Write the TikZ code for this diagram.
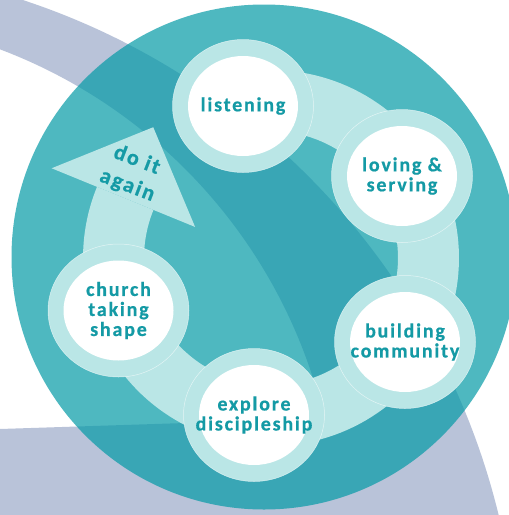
\documentclass[tikz,border=0pt]{standalone}
\usepackage{fontspec}
\newfontfamily\lblfamily{Carlito}[LetterSpace=9, BoldFeatures={FakeBold=0.6}]
\definecolor{greyc}{HTML}{B9C3D9}
\definecolor{tealc}{HTML}{049AA6}
\definecolor{ringc}{HTML}{BAE6E6}
\definecolor{textc}{HTML}{149AA5}
\newcommand\stagenode[3]{%
  \fill[ringc] (#2) ellipse [x radius=70.5pt, y radius=66.5pt];
  \draw[white, line width=0.5pt, draw opacity=0.6] (#2) ellipse [x radius=70.5pt, y radius=66.5pt];
  \fill[white] (#2) ellipse [x radius=55pt, y radius=50pt];
  \node[lbl] (#1) at (#2) {#3};}
\begin{document}
\begin{tikzpicture}[x=1pt, y=-1pt,
  lbl/.style={font={\lblfamily\bfseries\fontsize{20pt}{20pt}\selectfont}, text=textc, align=center, inner sep=0pt},
  arrowlbl/.style={font={\lblfamily\bfseries\fontsize{22pt}{27pt}\selectfont}, text=textc, align=center, inner sep=0pt}]
\useasboundingbox (0,0) rectangle (509,515);
\clip (0,0) rectangle (509,515);
\fill[white] (0,0) rectangle (509,515);
% grey bands
\fill[greyc, even odd rule] (-203,686) circle [radius=722pt] (-184,538) circle [radius=522pt];
\fill[greyc] (0,429) -- (340,418) -- (340,515) -- (0,515) -- cycle;
% big teal disc
\fill[tealc, fill opacity=0.7] (264,257) circle [radius=252.5pt];
% ring and arrow
\fill[ringc, shift={(271,258)}] plot[domain=250:562.25, samples=150] (\x:188) -- plot[domain=562.25:250, samples=150] (\x:127) -- cycle;
\fill[ringc, shift={(271,258)}] (202.25:237) -- (228:176) -- (202.25:82) -- cycle;
\node[arrowlbl, rotate=-21] (again) at (132,173) {do it\\again};
% stages
\stagenode{listen}{243,106}{listening}
\stagenode{love}{402,176}{loving \&\\serving}
\stagenode{build}{405,342}{building\\community}
\stagenode{explore}{254,415}{explore\\discipleship}
\stagenode{church}{118.5,310.5}{church\\taking\\shape}
\end{tikzpicture}
\end{document}
